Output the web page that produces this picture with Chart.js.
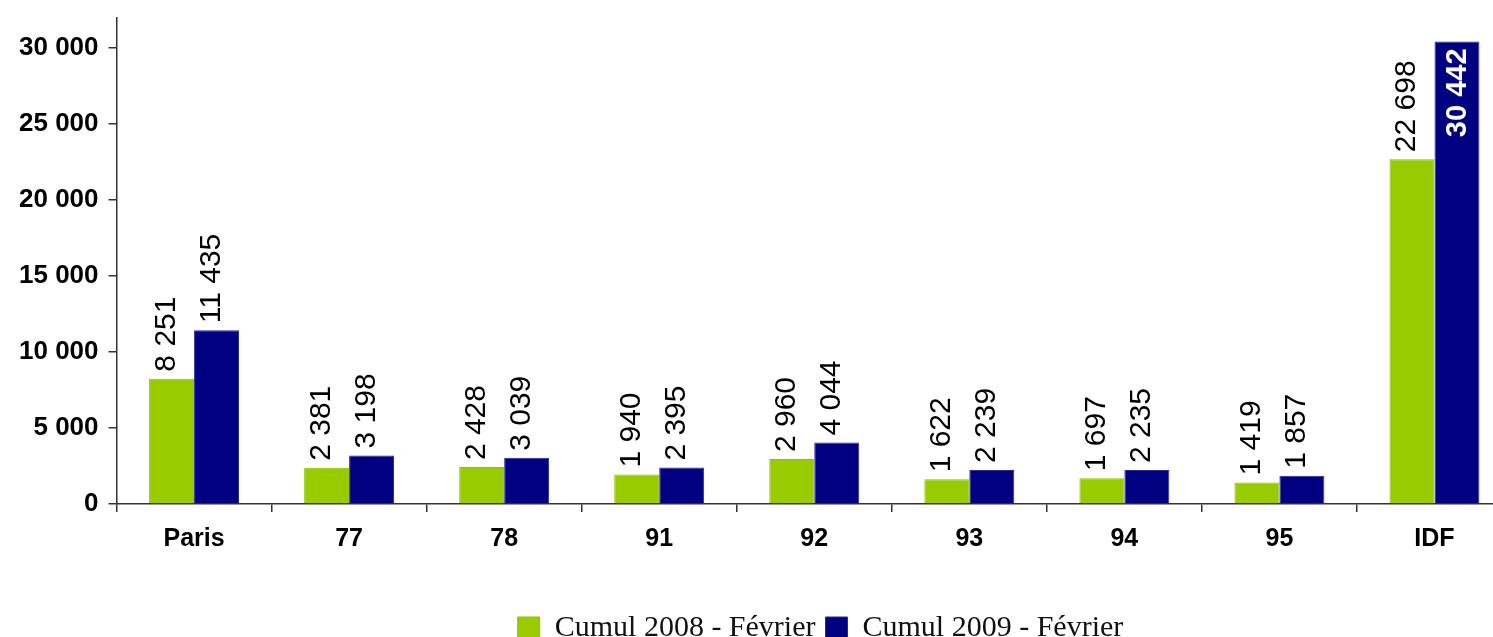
<!DOCTYPE html>
<html>
<head>
<meta charset="utf-8">
<script src="https://cdn.jsdelivr.net/npm/chart.js@4.4.1/dist/chart.umd.min.js"></script>
<style>
  html, body { margin: 0; padding: 0; background: #fff; overflow: hidden; }
  #wrap { position: relative; width: 1512px; height: 653px; }
</style>
</head>
<body>
<div id="wrap"><canvas id="myChart"></canvas></div>
<script>
// Départements et totaux cumulés
var departements = ["Paris", "77", "78", "91", "92", "93", "94", "95", "IDF"];
var cumul2008 = [8251, 2381, 2428, 1940, 2960, 1622, 1697, 1419, 22698];
var cumul2009 = [11435, 3198, 3039, 2395, 4044, 2239, 2235, 1857, 30442];
var yTicks = [0, 5000, 10000, 15000, 20000, 25000, 30000];

// séparateur de milliers avec une espace
function formatNombre(v) {
  return String(v).replace(/\B(?=(\d{3})+(?!\d))/g, " ");
}

// étiquettes verticales au-dessus des barres (dans la barre si pas de place)
var etiquettesPlugin = {
  id: "etiquettes",
  afterDatasetsDraw: function (chart) {
    var ctx = chart.ctx;
    var area = chart.chartArea;
    chart.data.datasets.forEach(function (ds, i) {
      var meta = chart.getDatasetMeta(i);
      meta.data.forEach(function (bar, j) {
        var txt = formatNombre(ds.data[j]);
        ctx.save();
        ctx.font = "30px 'Liberation Sans', Arial, sans-serif";
        var w = ctx.measureText(txt).width;
        var dedans = bar.y - 7 - w < area.top;
        if (dedans) {
          ctx.font = "bold 29px 'Liberation Sans', Arial, sans-serif";
          ctx.fillStyle = "#ffffff";
          ctx.translate(bar.x + 1, bar.y + 7);
          ctx.rotate(-Math.PI / 2);
          ctx.textAlign = "right";
        } else {
          ctx.fillStyle = "#000000";
          ctx.translate(bar.x - 5, bar.y - 7);
          ctx.rotate(-Math.PI / 2);
          ctx.textAlign = "left";
        }
        ctx.textBaseline = "middle";
        ctx.fillText(txt, 0, 0);
        ctx.restore();
      });
    });
  }
};

// légende décalée vers la droite
var decalageLegende = {
  id: "decalageLegende",
  afterLayout: function (chart) {
    chart.legend.left += 60;
    chart.legend.right += 60;
  }
};

const ctx = document.getElementById("myChart").getContext("2d");
var myChart = new Chart(ctx, {
  type: "bar",
  data: {
    labels: departements,
    datasets: [
      {
        label: "Cumul 2008 - Février",
        data: cumul2008,
        backgroundColor: "#99cc00",
        borderColor: "#8fc000",
        borderWidth: 1,
        categoryPercentage: 0.58,
        barPercentage: 1.0
      },
      {
        label: "Cumul 2009 - Février",
        data: cumul2009,
        backgroundColor: "#000080",
        borderColor: "#2a2a9a",
        borderWidth: 1,
        categoryPercentage: 0.58,
        barPercentage: 1.0
      }
    ]
  },
  options: {
    responsive: true,
    maintainAspectRatio: false,
    animation: false,
    layout: { padding: { top: 0, left: 9, right: 0, bottom: 0 } },
    plugins: {
      tooltip: { enabled: false },
      legend: {
        position: "bottom",
        labels: {
          boxWidth: 22,
          boxHeight: 22,
          padding: 10,
          color: "#111",
          font: { family: "'Liberation Serif', 'Times New Roman', serif", size: 30 }
        }
      }
    },
    scales: {
      x: {
        offset: true,
        border: { display: true, color: "#333", width: 1.5 },
        grid: {
          display: true,
          offset: true,
          drawOnChartArea: false,
          drawTicks: true,
          tickLength: 8,
          color: "#333",
          lineWidth: 1.5
        },
        afterFit: function (scale) {
          scale.height += 37;
        },
        ticks: {
          color: "#000",
          padding: 12,
          font: { family: "'Liberation Sans', Arial, sans-serif", size: 25, weight: "bold" }
        }
      },
      y: {
        min: 0,
        max: 32000,
        border: { display: true, color: "#333", width: 1.5 },
        grid: {
          display: true,
          drawOnChartArea: false,
          drawTicks: true,
          tickLength: 8,
          color: "#333",
          lineWidth: 1.5
        },
        afterBuildTicks: function (scale) {
          scale.ticks = yTicks.map(function (v) { return { value: v }; });
        },
        ticks: {
          color: "#000",
          padding: 10,
          font: { family: "'Liberation Sans', Arial, sans-serif", size: 26, weight: "bold", lineHeight: 0.6 },
          callback: function (v) { return formatNombre(v); }
        }
      }
    }
  },
  plugins: [etiquettesPlugin, decalageLegende]
});
</script>
</body>
</html>
